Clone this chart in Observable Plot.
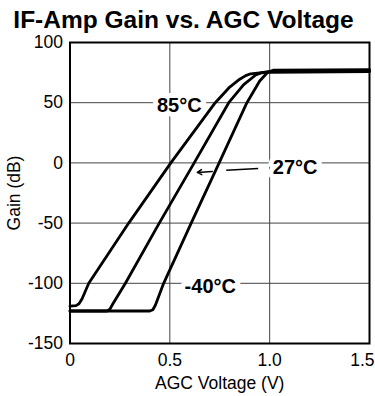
<!DOCTYPE html>
<html><head><meta charset="utf-8">
<script src="https://cdn.jsdelivr.net/npm/d3@7"></script>
<script src="https://cdn.jsdelivr.net/npm/@observablehq/plot@0.6"></script>
<style>
body{margin:0;background:#fff;font-family:"Liberation Sans",Arial,sans-serif;}
#wrap{position:relative;width:375px;height:396px;overflow:hidden;}
#title{position:absolute;left:0;top:8px;width:367px;text-align:center;font-size:24.5px;font-weight:bold;line-height:24px;color:#000;}
</style></head><body>
<div id="wrap"><div id="chart"></div><div id="title"></div></div>
<script>
const titleText = "IF-Amp Gain vs. AGC Voltage";
const xLabel = "AGC Voltage (V)";
const yLabel = "Gain (dB)";
const xTicks = [0, 0.5, 1.0];
const xTicksEnd = [1.5];
const xTickLabels = ["0", "0.5", "1.0", "1.5"];
const yTicks = [100, 50, 0, -50, -100, -150];
const xGrid = [0.5, 1.0];
const yGrid = [50, 0, -50, -100];

// 85°C curve
const volt85 = [0, 0.03, 0.045, 0.06, 0.094, 0.294, 0.505, 0.7275, 0.80, 0.85, 0.88, 0.905, 0.95, 1.0, 1.5];
const gain85 = [-119, -118.5, -117, -113, -100, -50, 0, 50, 63, 69.5, 72.5, 74, 74.7, 75.3, 75.8];
// 27°C curve
const volt27 = [0, 0.185, 0.2, 0.215, 0.2775, 0.447, 0.622, 0.795, 0.87, 0.93, 0.96, 1.0, 1.5];
const gain27 = [-123, -123, -121.5, -117, -100, -50, 0, 50, 65, 73, 75, 76, 76.6];
// -40°C curve
const volt40 = [0, 0.40, 0.415, 0.428, 0.469, 0.607, 0.747, 0.886, 0.95, 0.99, 1.02, 1.5];
const gain40 = [-123, -123, -122, -118, -100, -50, 0, 50, 68, 75.3, 77, 77.4];

const tempNames = ["85°C", "27°C", "-40°C"];
const labelVolt = [0.5475, 1.1275, 0.7025];
const labelGain = [48, -4, -102.5];

// leader to the 27°C curve
const leaderVolt = [0.9425, 0.7825];
const leaderGain = [-4.75, -6.1];
const arrowVolt = [0.7125, 0.6375];
const arrowGain = [-7.1, -7.9];

document.getElementById("title").textContent = titleText;

const curveData = [];
[[volt85, gain85, tempNames[0]], [volt27, gain27, tempNames[1]], [volt40, gain40, tempNames[2]]]
  .forEach(([vs, gs, t]) => vs.forEach((v, i) => curveData.push({v, g: gs[i], t})));
const labelData = tempNames.map((t, i) => ({t, v: labelVolt[i], g: labelGain[i]}));
const leaderData = [{x1: leaderVolt[0], y1: leaderGain[0], x2: leaderVolt[1], y2: leaderGain[1]}];
const arrowData = [{x1: arrowVolt[0], y1: arrowGain[0], x2: arrowVolt[1], y2: arrowGain[1]}];
const allXTicks = xTicks.concat(xTicksEnd);
const fmtX = d => xTickLabels[allXTicks.indexOf(d)];

const chart = Plot.plot({
  width: 375, height: 396,
  marginLeft: 69.5, marginRight: 6, marginTop: 42, marginBottom: 53,
  style: {fontFamily: "Liberation Sans, Arial, sans-serif", fontSize: "17.5px", color: "#000", background: "#fff"},
  x: {domain: [0, 1.5]},
  y: {domain: [-150, 100]},
  marks: [
    Plot.gridY(yGrid, {stroke: "#444", strokeOpacity: 1, strokeWidth: 1}),
    Plot.gridX(xGrid, {stroke: "#444", strokeOpacity: 1, strokeWidth: 1}),
    Plot.axisX(xTicks, {tickSize: 0, tickPadding: 10, tickFormat: fmtX,
      label: xLabel, labelAnchor: "center", labelArrow: "none", labelOffset: 45, fontSize: 17.5}),
    Plot.axisX(xTicksEnd, {tickSize: 0, tickPadding: 10, tickFormat: fmtX, textAnchor: "end", dx: 5,
      label: null, fontSize: 17.5}),
    Plot.axisY(yTicks, {tickSize: 0, tickPadding: 7, tickFormat: d => String(d),
      label: yLabel, labelAnchor: "center", labelArrow: "none", labelOffset: 62, fontSize: 17.5}),
    Plot.text(labelData, {x: "v", y: "g", text: "t", fontWeight: "bold", fontSize: 20,
      fill: "black", stroke: "white", strokeWidth: 10}),
    Plot.link(leaderData, {x1: "x1", y1: "y1", x2: "x2", y2: "y2", stroke: "black", strokeWidth: 1.5}),
    Plot.arrow(arrowData, {x1: "x1", y1: "y1", x2: "x2", y2: "y2", stroke: "black", strokeWidth: 1.5, headLength: 6}),
    Plot.line(curveData, {x: "v", y: "g", z: "t", curve: "linear", stroke: "black", strokeWidth: 2.8, strokeLinejoin: "round"}),
    Plot.frame({stroke: "black", strokeWidth: 2})
  ]
});
document.getElementById("chart").appendChild(chart);
</script>
</body></html>
